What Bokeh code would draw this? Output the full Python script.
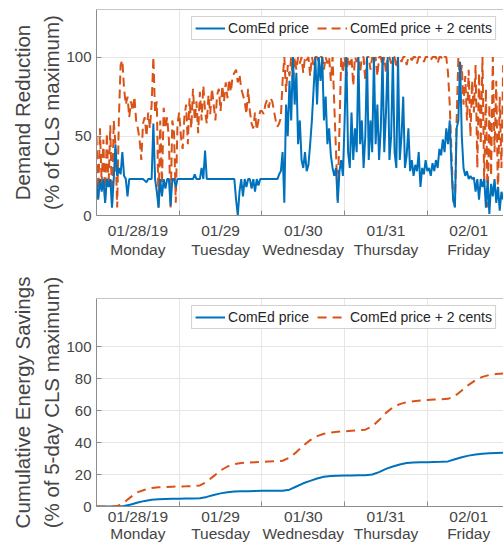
import numpy as np
from bokeh.plotting import figure
from bokeh.models import Range1d, FixedTicker, Legend, LegendItem, Span
from bokeh.layouts import column
from bokeh.embed import file_html
from bokeh.resources import INLINE

# ---------------- data ----------------
hours = np.arange(0, 118.01, 0.5)          # half-hour samples from 01/28 00:00
cum_hours = np.arange(0, 118.01, 2)        # 2-hour samples

day_ticks = [12, 36, 60, 84, 108]
day_labels = ["01/28/19\nMonday", "01/29\nTuesday", "01/30\nWednesday",
              "01/31\nThursday", "02/01\nFriday"]
midnights = [24, 48, 72, 96]

# Demand reduction (% of CLS maximum), ComEd price + 2 cents
reduction_plus2 = [
    50, 12, 55, 20, 48, 8, 52, 18, 57, 6,
    60, 45, 5, 62, 95, 98, 80, 70, 75, 62,
    72, 66, 75, 60, 55, 48, 35, 58, 62, 50,
    65, 55, 70, 100, 65, 72, 5, 60, 20, 68,
    55, 62, 48, 5, 60, 52, 8, 58,
    65, 50, 42, 62, 70, 45, 74, 55, 80, 60,
    72, 52, 78, 60, 82, 66, 58, 76, 64, 80,
    70, 60, 76, 80, 66, 82, 72, 84, 74, 86,
    78, 88, 90, 92, 84, 89, 80, 76, 72, 64,
    80, 66, 58, 55, 65, 54, 60, 66,
    66, 64, 70, 73, 68, 74, 72, 66, 60, 56,
    58, 62, 85, 100, 78, 95, 88, 100, 82, 100,
    92, 100, 96, 100, 90, 100, 98, 100, 88, 100,
    95, 100, 100, 97, 100, 100, 92, 100, 96, 100,
    85, 100, 70, 40, 10, 55, 100, 90,
    100, 88, 100, 95, 100, 82, 100, 97, 100, 90,
    100, 100, 85, 100, 100, 92, 100, 96, 100, 88,
    100, 100, 94, 100, 90, 100, 100, 96, 100, 100,
    93, 100, 100, 97, 100, 100, 95, 100, 100, 98,
    100, 100, 96, 100, 100, 100, 97, 100,
    100, 100, 98, 100, 100, 100, 96, 100, 100, 98,
    100, 100, 90, 70, 40, 10, 5, 60, 100, 85,
    95, 70, 88, 60, 92, 50, 85, 65, 95, 30,
    90, 45, 100, 20, 80, 5, 70, 25, 100, 40,
    85, 10, 75, 30, 95,
]

# Demand reduction (% of CLS maximum), ComEd price
reduction_price = [
    20, 10, 23, 15, 23, 8, 23, 18, 23, 5,
    23, 45, 25, 30, 26, 40, 25, 23, 12, 23,
    23, 23, 23, 23, 23, 23, 23, 23, 22, 21,
    23, 23, 23, 58, 23, 15, 5, 23, 12, 23,
    17, 23, 23, 6, 23, 23, 18, 23,
    23, 23, 23, 23, 23, 23, 23, 23, 23, 26,
    23, 23, 23, 30, 23, 41, 23, 23, 23, 23,
    23, 23, 23, 23, 23, 23, 23, 23, 23, 23,
    23, 23, 23, 10, 0, 15, 23, 12, 23, 18,
    23, 23, 17, 23, 15, 23, 19, 23,
    23, 23, 23, 23, 23, 23, 23, 23, 23, 23,
    26, 28, 40, 8, 70, 50, 85, 60, 100, 70,
    90, 45, 60, 35, 30, 40, 28, 32, 45, 60,
    80, 100, 70, 100, 85, 100, 60, 75, 45, 55,
    38, 30, 25, 30, 8, 28, 35, 25,
    60, 100, 40, 30, 65, 35, 55, 40, 100, 45,
    60, 30, 50, 100, 35, 60, 40, 100, 45, 70,
    35, 55, 100, 40, 65, 100, 35, 50, 100, 40,
    30, 100, 35, 50, 75, 30, 38, 55, 28, 35,
    25, 32, 28, 40, 18, 30, 26, 35,
    28, 30, 25, 33, 28, 35, 30, 42, 38, 48,
    40, 55, 45, 60, 30, 10, 5, 55, 60, 97,
    50, 30, 25, 28, 23, 25, 23, 24, 15, 23,
    10, 23, 18, 23, 5, 22, 1, 20, 12, 23,
    8, 18, 3, 15, 10,
]

# Cumulative energy savings (% of 5-day CLS maximum)
savings_price = [
    0, 0, 0, 0, 0.3, 1.2, 2.5, 3.5, 4.2, 4.5,
    4.7, 4.8, 4.9, 5.0, 5.0, 5.2, 6.0, 7.2, 8.2, 8.9,
    9.3, 9.5, 9.6, 9.7, 9.8, 9.8, 9.8, 9.9, 10.5, 12.5,
    14.5, 16.0, 17.5, 18.6, 19.0, 19.2, 19.3, 19.4, 19.5, 19.6,
    20.0, 21.5, 23.5, 25.0, 26.3, 27.2, 27.5, 27.6, 27.7, 27.8,
    27.9, 28.2, 29.5, 30.8, 31.8, 32.5, 33.0, 33.3, 33.5, 33.6,
]
savings_plus2 = [
    0, 0, 0, 0.3, 2.5, 6.0, 9.0, 10.5, 11.5, 12.0,
    12.2, 12.4, 12.5, 12.6, 12.8, 13.2, 15.5, 19.0, 22.5, 25.0,
    26.5, 27.2, 27.5, 27.7, 27.9, 28.1, 28.3, 28.6, 30.5, 34.0,
    38.0, 41.5, 44.0, 45.5, 46.2, 46.7, 47.0, 47.3, 47.6, 48.0,
    50.0, 54.0, 58.5, 62.0, 64.0, 65.2, 65.8, 66.2, 66.5, 66.8,
    67.0, 67.3, 69.0, 72.5, 76.0, 79.0, 81.0, 82.2, 82.8, 83.2,
]

# ---------------- styling ----------------
BLUE = "#0072BD"
ORANGE = "#D95319"
FONT = "Liberation Sans"
AXIS = "#8c8c8c"
TEXT = "#454545"
GRID = "#e6e6e6"


def make_fig(height, top, bottom, yticks, ylabel, xstandoff, xlh):
    p = figure(width=503, height=height, x_range=Range1d(0, 118.1),
               y_range=Range1d(0, 130), output_backend="svg",
               toolbar_location=None, min_border_left=96,
               min_border_right=0, min_border_top=top,
               min_border_bottom=bottom)
    p.outline_line_color = None
    p.background_fill_color = "white"
    p.border_fill_color = "white"

    xa = p.xaxis[0]
    xa.ticker = FixedTicker(ticks=day_ticks, minor_ticks=midnights)
    xa.major_label_overrides = dict(zip(day_ticks, day_labels))
    xa.major_tick_line_color = None
    xa.minor_tick_in = 5
    xa.minor_tick_out = 0
    xa.minor_tick_line_color = AXIS
    xa.axis_line_color = AXIS
    xa.major_label_text_font = FONT
    xa.major_label_text_font_size = "15.5px"
    xa.major_label_text_color = TEXT
    xa.major_label_standoff = xstandoff
    xa.major_label_text_line_height = xlh

    ya = p.yaxis[0]
    ya.ticker = FixedTicker(ticks=yticks)
    ya.major_tick_in = 5
    ya.major_tick_out = 0
    ya.minor_tick_line_color = None
    ya.major_tick_line_color = AXIS
    ya.axis_line_color = AXIS
    ya.major_label_text_font = FONT
    ya.major_label_text_font_size = "15px"
    ya.major_label_text_color = TEXT
    ya.major_label_standoff = 5
    ya.axis_label = ylabel
    ya.axis_label_text_font = FONT
    ya.axis_label_text_font_size = "20.5px"
    ya.axis_label_text_font_style = "normal"
    ya.axis_label_text_color = TEXT
    ya.axis_label_text_line_height = 1.3
    ya.axis_label_standoff = 0

    p.xgrid.ticker = FixedTicker(ticks=midnights)
    p.xgrid.grid_line_color = GRID
    p.ygrid.grid_line_color = GRID
    p.add_layout(Span(location=130, dimension="width",
                      line_color=AXIS, line_width=1))
    return p


def add_legend(p, r_blue, r_orange):
    lg = Legend(items=[LegendItem(label="ComEd price", renderers=[r_blue]),
                       LegendItem(label="ComEd price + 2 cents", renderers=[r_orange])],
                location="top_right", orientation="horizontal")
    lg.label_text_font = FONT
    lg.label_text_font_size = "14px"
    lg.label_text_color = "#262626"
    lg.glyph_width = 30
    lg.glyph_height = 14
    lg.label_height = 14
    lg.label_standoff = 3
    lg.spacing = 8
    lg.padding = 3
    lg.margin = 7
    lg.border_line_color = "#a6a6a6"
    lg.background_fill_alpha = 1.0
    p.add_layout(lg)


p1 = make_fig(268, 9, 53, [0, 50, 100], "Demand Reduction\n(% of CLS maximum)",
              0, 1.12)
ro1 = p1.line(hours, reduction_plus2, line_color=ORANGE, line_width=2,
              line_dash="9 5")
rb1 = p1.line(hours, reduction_price, line_color=BLUE, line_width=2)
add_legend(p1, rb1, ro1)

p2 = make_fig(276, 30, 38, [0, 20, 40, 60, 80, 100],
              "Cumulative Energy Savings\n(% of 5-day CLS maximum)", -5, 1.0)
rb2 = p2.line(cum_hours, savings_price, line_color=BLUE, line_width=2)
ro2 = p2.line(cum_hours, savings_plus2, line_color=ORANGE, line_width=2,
              line_dash="9 6")
add_legend(p2, rb2, ro2)

layout = column(p1, p2, spacing=0)
open("out.html", "w").write(file_html(layout, INLINE))
